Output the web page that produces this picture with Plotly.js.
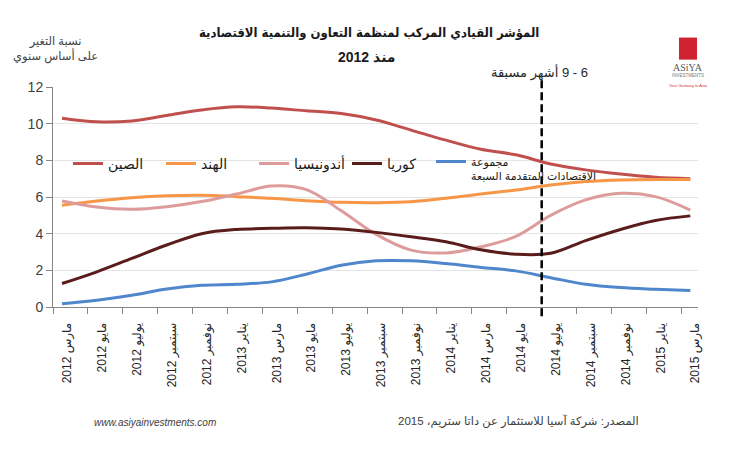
<!DOCTYPE html>
<html>
<head>
<meta charset="utf-8">
<script src="https://cdn.plot.ly/plotly-3.0.1.min.js"></script>
<style>
  html, body { margin: 0; padding: 0; background: #ffffff; }
  #chart { width: 736px; height: 450px; }
</style>
</head>
<body>
<div id="chart"></div>
<script>
// Month labels (bi-monthly, March 2012 – March 2015)
const periods = [
  'مارس 2012', 'مايو 2012', 'يوليو 2012', 'سبتمبر 2012', 'نوفمبر 2012',
  'يناير 2013', 'مارس 2013', 'مايو 2013', 'يوليو 2013', 'سبتمبر 2013', 'نوفمبر 2013',
  'يناير 2014', 'مارس 2014', 'مايو 2014', 'يوليو 2014', 'سبتمبر 2014', 'نوفمبر 2014',
  'يناير 2015', 'مارس 2015'
];

// Year-on-year change of the OECD composite leading indicator (%)
const china     = [10.3, 10.1, 10.15, 10.45, 10.75, 10.92, 10.85, 10.7, 10.55, 10.2, 9.65, 9.1, 8.6, 8.3, 7.8, 7.48, 7.25, 7.08, 7.0];
const india     = [5.55, 5.78, 5.96, 6.07, 6.1, 6.02, 5.93, 5.8, 5.71, 5.69, 5.74, 5.93, 6.16, 6.38, 6.65, 6.84, 6.93, 6.96, 6.95];
const indonesia = [5.78, 5.45, 5.33, 5.47, 5.75, 6.16, 6.6, 6.4, 5.25, 3.96, 3.1, 2.95, 3.28, 3.85, 5.0, 5.84, 6.2, 6.02, 5.29];
const korea     = [1.28, 1.92, 2.65, 3.38, 4.0, 4.23, 4.29, 4.32, 4.25, 4.07, 3.83, 3.56, 3.12, 2.88, 2.93, 3.62, 4.23, 4.72, 4.97];
const g7        = [0.18, 0.37, 0.64, 0.98, 1.18, 1.24, 1.37, 1.79, 2.28, 2.52, 2.52, 2.37, 2.16, 1.97, 1.6, 1.24, 1.06, 0.97, 0.9];

const seriesNames = ['الصين', 'الهند', 'أندونيسيا', 'كوريا', 'مجموعة<br>الاقتصادات المتقدمة السبعة'];
const yTicks = [0, 2, 4, 6, 8, 10, 12];

// index of the first forecast period (the 6–9 month lead marker sits before it)
const leadStart = 14;

// ---- layout helpers -------------------------------------------------
const RTL = s => '\u202B' + s + '\u202C';
const PL = 53, PR = 698, PT = 87.3, PB = 306.7;
const px = x => (x - PL) / (PR - PL);
const py = y => (PB - y) / (PB - PT);
const xs = periods.map((_, i) => i);
const half = 0.258;                       // gap between a point and its category boundary
const boundaries = periods.map((_, i) => i - half);
const labelPos = periods.map((_, i) => i + 0.15);

const colors = ['#c0504d', '#f79646', '#dd9c9b', '#5b1c1c', '#4f86cc'];
const values = [china, india, indonesia, korea, g7];

const traces = values.map((v, k) => ({
  type: 'scatter',
  mode: 'lines',
  x: xs,
  y: v,
  name: seriesNames[k],
  legend: k === 4 ? 'legend2' : 'legend',
  line: { color: colors[k], width: 3, shape: 'spline', smoothing: 1 },
  hoverinfo: 'skip'
}));

const fontFam = '"Liberation Sans", Arial, "DejaVu Sans", sans-serif';
const titleFam = '"DejaVu Sans Condensed", "Liberation Sans", "DejaVu Sans", sans-serif';

const legendBase = {
  orientation: 'h',
  yanchor: 'top',
  valign: 'top',
  bgcolor: 'rgba(0,0,0,0)',
  traceorder: 'normal'
};

const layout = {
  width: 736,
  height: 450,
  margin: { l: PL, r: 736 - PR, t: PT, b: 450 - PB, pad: 0 },
  paper_bgcolor: '#ffffff',
  plot_bgcolor: '#ffffff',
  font: { family: fontFam, color: '#262626' },
  showlegend: true,
  xaxis: {
    range: [-half, 18.22],
    tickmode: 'array',
    tickvals: labelPos,
    ticktext: periods.map(RTL),
    tickangle: -90,
    ticks: '',
    ticklabelstandoff: 10,
    tickfont: { size: 12, color: '#262626' },
    minor: { tickmode: 'array', tickvals: boundaries, ticks: 'outside', ticklen: 6, tickcolor: '#868686', tickwidth: 1, showgrid: false },
    showline: true, linecolor: '#868686', linewidth: 1,
    showgrid: false, zeroline: false, fixedrange: true
  },
  yaxis: {
    range: [0, 12],
    tickmode: 'array',
    tickvals: yTicks,
    ticks: 'outside', ticklen: 6, tickcolor: '#868686',
    tickfont: { size: 14, color: '#404040' },
    showline: true, linecolor: '#868686', linewidth: 1,
    showgrid: true, gridcolor: '#e4e4e4', gridwidth: 1,
    zeroline: false, fixedrange: true
  },
  legend: Object.assign({}, legendBase, {
    x: px(68), xanchor: 'left', y: py(148), entrywidth: 48,
    font: { size: 14, color: '#1a1a1a' }
  }),
  legend2: Object.assign({}, legendBase, {
    x: px(431), xanchor: 'left', y: py(148),
    font: { size: 11, color: '#1a1a1a' }
  }),
  shapes: [
    {
      type: 'line', xref: 'x', yref: 'paper',
      x0: boundaries[leadStart], x1: boundaries[leadStart],
      y0: py(316), y1: py(77),
      line: { color: '#000000', width: 2.5, dash: '8px,4px' }
    },
    {
      type: 'rect', xref: 'paper', yref: 'paper',
      x0: px(679), x1: px(697), y0: py(60), y1: py(38),
      fillcolor: '#cf2230', line: { width: 0 }
    }
  ],
  annotations: [
    {
      text: '<b>المؤشر القيادي المركب لمنظمة التعاون والتنمية الاقتصادية</b>',
      xref: 'paper', yref: 'paper', x: px(369), y: py(33),
      xanchor: 'center', yanchor: 'middle', showarrow: false,
      font: { size: 13, color: '#1a1a1a', family: titleFam }
    },
    {
      text: '<b>' + RTL('منذ 2012') + '</b>',
      xref: 'paper', yref: 'paper', x: px(367), y: py(57),
      xanchor: 'center', yanchor: 'middle', showarrow: false,
      font: { size: 14, color: '#1a1a1a' }
    },
    {
      text: 'نسبة التغير<br>على أساس سنوي',
      xref: 'paper', yref: 'paper', x: px(55), y: py(50),
      xanchor: 'center', yanchor: 'middle', showarrow: false,
      font: { size: 11.5, color: '#404040' }
    },
    {
      text: RTL('6 - 9 أشهر مسبقة'),
      xref: 'paper', yref: 'paper', x: px(539), y: py(73),
      xanchor: 'center', yanchor: 'middle', showarrow: false,
      font: { size: 13, color: '#262626' }
    },
    {
      text: RTL('المصدر: شركة آسيا للاستثمار عن داتا ستريم، 2015'),
      xref: 'paper', yref: 'paper', x: px(641), y: py(421),
      xanchor: 'right', yanchor: 'middle', showarrow: false,
      font: { size: 11.5, color: '#404040' }
    },
    {
      text: '<i>www.asiyainvestments.com</i>',
      xref: 'paper', yref: 'paper', x: px(155), y: py(422),
      xanchor: 'center', yanchor: 'middle', showarrow: false,
      font: { size: 10, color: '#404040' }
    },
    {
      text: 'ASiYA',
      xref: 'paper', yref: 'paper', x: px(688), y: py(68),
      xanchor: 'center', yanchor: 'middle', showarrow: false,
      font: { size: 10, color: '#5a5a5a', family: '"Liberation Serif", "DejaVu Serif", serif' }
    },
    {
      text: 'INVESTMENTS',
      xref: 'paper', yref: 'paper', x: px(688), y: py(76),
      xanchor: 'center', yanchor: 'middle', showarrow: false,
      font: { size: 4.5, color: '#777777' }
    },
    {
      text: 'Your Gateway to Asia',
      xref: 'paper', yref: 'paper', x: px(688), y: py(86),
      xanchor: 'center', yanchor: 'middle', showarrow: false,
      font: { size: 4, color: '#d0303a' }
    }
  ]
};

Plotly.newPlot('chart', traces, layout, { staticPlot: true, displayModeBar: false });
</script>
</body>
</html>
